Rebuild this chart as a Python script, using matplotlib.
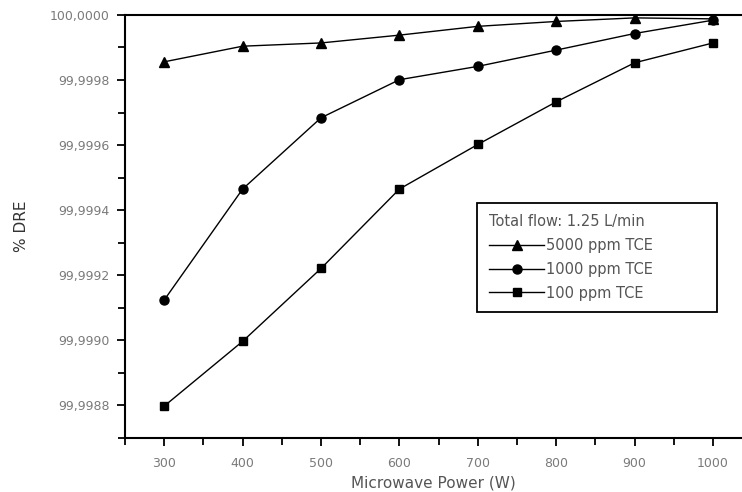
import numpy as np
import matplotlib.pyplot as plt
from matplotlib.ticker import FuncFormatter, MultipleLocator

# data
power = [300, 400, 500, 600, 700, 800, 900, 1000]
dre_5000 = [99.999856, 99.999904, 99.999914, 99.999938, 99.999965, 99.999980, 99.999991, 99.999988]
dre_1000 = [99.999124, 99.999465, 99.999684, 99.999801, 99.999842, 99.999892, 99.999943, 99.999984]
dre_100 = [99.998798, 99.998997, 99.999221, 99.999465, 99.999602, 99.999733, 99.999853, 99.999914]

labels = ["5000 ppm TCE", "1000 ppm TCE", "100 ppm TCE"]
markers = ["^", "o", "s"]
msizes = [7.5, 6.5, 6]

plt.rcParams['font.family'] = ['DejaVu Sans']

fig = plt.figure(figsize=(7.42, 4.92), dpi=100)
ax = fig.add_axes([0.1685, 0.1098, 0.8315, 0.8598])

for y, lab, m, ms in zip([dre_5000, dre_1000, dre_100], labels, markers, msizes):
    ax.plot(power, y, color="black", linewidth=1.0, marker=m, markersize=ms,
            markerfacecolor="black", markeredgecolor="black", label=lab)

ax.set_xlim(250, 1037)
ax.set_ylim(99.9987, 100.0000)
ax.xaxis.set_major_locator(MultipleLocator(100))
ax.xaxis.set_minor_locator(MultipleLocator(50))
ax.yaxis.set_major_locator(MultipleLocator(0.0002))
ax.yaxis.set_minor_locator(MultipleLocator(0.0001))
ax.yaxis.set_major_formatter(FuncFormatter(lambda v, p: f"{v:.4f}".replace(".", ",")))

ax.spines["right"].set_visible(False)
for s in ["left", "bottom", "top"]:
    ax.spines[s].set_linewidth(1.5)

ax.tick_params(which="both", direction="out", width=1.3, colors="black",
               labelcolor="#7a7a7a", labelsize=9)
ax.tick_params(which="major", length=6)
ax.tick_params(which="minor", length=5)
ax.tick_params(axis="x", pad=8)
ax.tick_params(axis="y", pad=5)

ax.set_xlabel("Microwave Power (W)", fontsize=11, color="#555555", labelpad=4)
ax.set_ylabel("% DRE", fontsize=11, color="#333333", labelpad=15)

leg = ax.legend(loc="lower left", bbox_to_anchor=(0.559, 0.28, 0.413, 0.27),
                mode="expand", title="Total flow: 1.25 L/min", fontsize=10.5,
                title_fontsize=10.5, fancybox=False, edgecolor="black",
                framealpha=1, handlelength=3.8, handletextpad=0.1,
                labelspacing=0.6, borderpad=0.8)
leg._legend_box.align = "left"
leg.get_frame().set_linewidth(1.3)
for t in leg.get_texts():
    t.set_color("#555555")
leg.get_title().set_color("#555555")

fig.savefig("out.png", dpi=100)
